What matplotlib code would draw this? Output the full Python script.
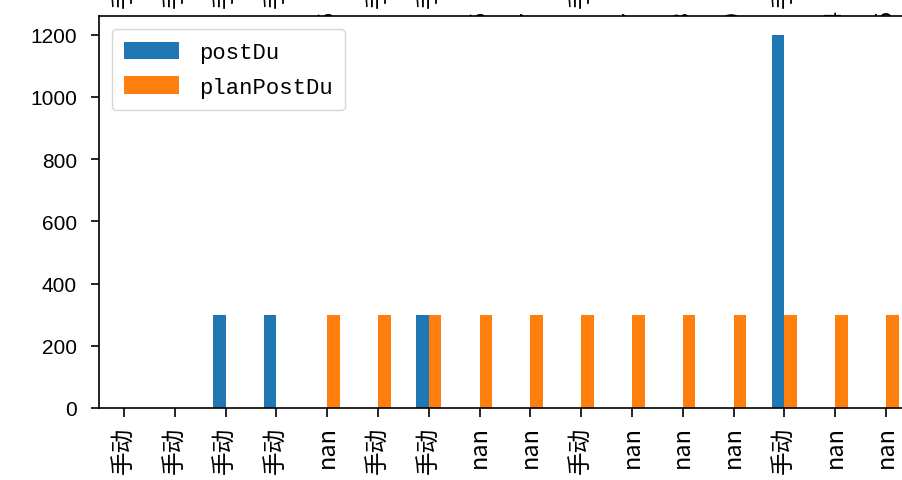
import numpy as np
import matplotlib
matplotlib.use("Agg")
import matplotlib.pyplot as plt
import matplotlib.transforms as mtransforms

plt.rcParams["font.family"] = ["Noto Sans CJK SC", "DejaVu Sans"]
plt.rcParams["axes.unicode_minus"] = False
plt.rcParams.update({"axes.linewidth": 1.2,
                     "xtick.major.size": 6.5, "ytick.major.size": 5.5,
                     "xtick.major.width": 1.2, "ytick.major.width": 1.2})

labels = ["手动", "手动", "手动", "手动", "nan", "手动", "手动", "nan",
          "nan", "手动", "nan", "nan", "nan", "手动", "nan", "nan"]
post_du = [0, 0, 300, 300, 0, 0, 300, 0, 0, 0, 0, 0, 0, 1200, 0, 0]
plan_post_du = [0, 0, 0, 0, 300, 300, 300, 300, 300, 300, 300, 300, 300,
                300, 300, 300]
# labels of a chart above, cut off by the crop / hidden behind this axes
top_labels = ["手动", "手动", "手动", "手动", "6", "手动", "手动", "6",
              "7", "手动", "7", "8", "9", "手动", "4", "5"]
yticks = [0, 200, 400, 600, 800, 1000, 1200]

fig = plt.figure(figsize=(9.02, 4.81), dpi=100)
ax = fig.add_axes([0.1093, 0.1497, 0.901, 0.815])

x = np.arange(len(labels))
w = 0.25
ax.bar(x - w / 2, post_du, w, color="#1f77b4", label="postDu")
ax.bar(x + w / 2, plan_post_du, w, color="#ff7f0e", label="planPostDu")
ax.set_xlim(-0.5, len(labels) - 0.5)
ax.set_ylim(0, 1260)
ax.set_xticks(x)
ax.set_xticklabels(labels, rotation=90, fontsize=17)
ax.tick_params(axis="x", pad=6)
ax.set_yticks(yticks)
ax.set_yticklabels([str(v) for v in yticks], fontsize=15,
                   family="Liberation Sans")
ax.tick_params(axis="y", pad=10)
ax.legend(loc="upper left", prop={"family": "Liberation Mono", "size": 16},
          handlelength=2.45, handleheight=0.85, borderaxespad=0.6,
          labelspacing=0.6, borderpad=0.55, handletextpad=0.9)

# fragments of the rotated labels of a chart above
trans = mtransforms.blended_transform_factory(ax.transData, fig.transFigure)
for i, s in enumerate(top_labels):
    if s == "手动":
        fig.text(i, 1 - 8 / 481, s, rotation=90, ha="center", va="bottom",
                 fontsize=17, transform=trans)
    else:
        fig.text(i, 1 - 11 / 481, s, rotation=90, ha="center", va="top",
                 fontsize=17, transform=trans, zorder=-1)

fig.savefig("out.png", dpi=100, facecolor="white")
